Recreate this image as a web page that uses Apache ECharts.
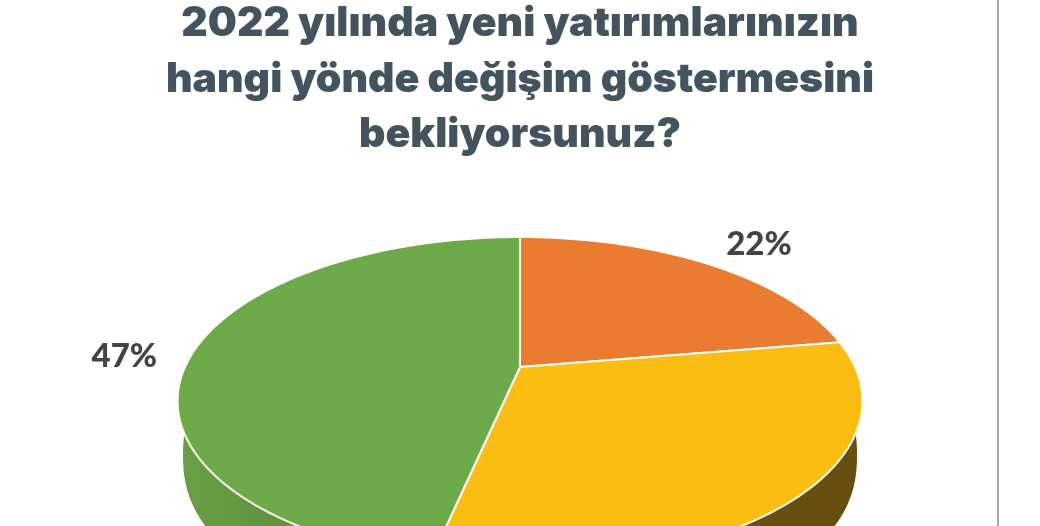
<!DOCTYPE html>
<html><head><meta charset="utf-8">
<style>html,body{margin:0;padding:0;background:#fff}#c{width:1040px;height:526px}</style>
<script src="https://cdn.jsdelivr.net/npm/echarts@6/dist/echarts.min.js"></script>
</head><body><div id="c"></div>
<script>
const titleLines = ['2022 yılında yeni yatırımlarınızın','hangi yönde değişim göstermesini','bekliyorsunuz?'];
const sliceNames = ['Orange','Yellow','Green'];
const sliceShares = [22.4, 31, 46.6];
const sliceColors = ['#e97c30','#fbbc13','#6dab4a'];

// Perspective view of the disc
const CX=520, APEX=367, FAR=237, NEAR=565, R=335;
const C=(FAR+NEAR-2*APEX)/(NEAR-FAR), A=FAR*(1+C)-APEX;
const MID_Y=(FAR+NEAR)/2, RIM_B=(NEAR-FAR)/2, RIM_A=341;
const LOW_Y=455, LOW_A=337, LOW_B=164, LOW_P=2.3;
function project(theta,r){
  const u=Math.sin(theta)*r, v=Math.cos(theta)*r, w=1+C*v;
  return [CX+R*u/w,(APEX+A*v)/w];
}
function lowerEdge(p){
  const lx=(p[0]-CX)/RIM_A, ly=(p[1]-MID_Y)/RIM_B;
  const t=Math.pow(Math.pow(Math.abs(lx),LOW_P)+Math.pow(Math.abs(ly),LOW_P),1/LOW_P)||1;
  return [CX+LOW_A*lx/t, LOW_Y+LOW_B*ly/t];
}
const total=sliceShares.reduce((a,b)=>a+b,0);
function span(i){
  let s=0; for(let k=0;k<i;k++) s+=sliceShares[k];
  return [s/total*2*Math.PI,(s+sliceShares[i])/total*2*Math.PI];
}
function arc(t0,t1){
  const n=Math.max(4,Math.ceil((t1-t0)*80)),p=[];
  for(let k=0;k<=n;k++) p.push(project(t0+(t1-t0)*k/n,1));
  return p;
}
const wallFill=[
  '#8f4e1c',
  '#674f10',
  {type:'linear',x:179,y:0,x2:450,y2:0,global:true,colorStops:[
    {offset:0,color:'#6a9f46'},{offset:0.5,color:'#5e8f3c'},{offset:1,color:'#55833a'}]}
];
const LABEL_R=[1.335,null,1.22], LABEL_DY=9;

const chart=echarts.init(document.getElementById('c'),null,{renderer:'canvas'});
chart.setOption({
  animation:false,
  backgroundColor:'#fff',
  title:{text:titleLines.join('\n'),left:515,top:-9,textAlign:'center',
    textStyle:{fontFamily:'Inter',fontWeight:900,fontSize:41,lineHeight:55.5,color:'#44545e'}},
  graphic:[{type:'rect',shape:{x:997,y:0,width:2,height:526},style:{fill:'#a9a9a9'},silent:true}],
  series:[
    {type:'custom',coordinateSystem:'none',z:1,silent:true,
     data:sliceShares.map((v,i)=>({name:sliceNames[i],value:[v]})),
     renderItem(params){
       const i=params.dataIndex,[t0,t1]=span(i),top=arc(t0,t1);
       const low=top.map(lowerEdge).reverse();
       return {type:'polygon',shape:{points:top.concat(low)},style:{fill:wallFill[i]}};
     }},
    {type:'custom',coordinateSystem:'none',z:2,silent:true,
     data:sliceShares.map((v,i)=>({name:sliceNames[i],value:[v]})),
     renderItem(params,api){
       const i=params.dataIndex,[t0,t1]=span(i);
       const pts=[project(0,0)].concat(arc(t0,t1));
       const children=[{type:'polygon',shape:{points:pts},
         style:{fill:sliceColors[i],stroke:'#fffdf5',lineWidth:2,lineJoin:'round'}}];
       if(LABEL_R[i]){
         const p=project((t0+t1)/2,LABEL_R[i]);
         children.push({type:'text',z2:5,style:{x:p[0],y:p[1]+LABEL_DY,text:Math.round(api.value(0))+'%',
           align:'center',verticalAlign:'middle',fontFamily:'Lato',fontWeight:900,fontSize:33,fill:'#414347'}});
       }
       return {type:'group',children};
     }}
  ]
});
</script></body></html>
